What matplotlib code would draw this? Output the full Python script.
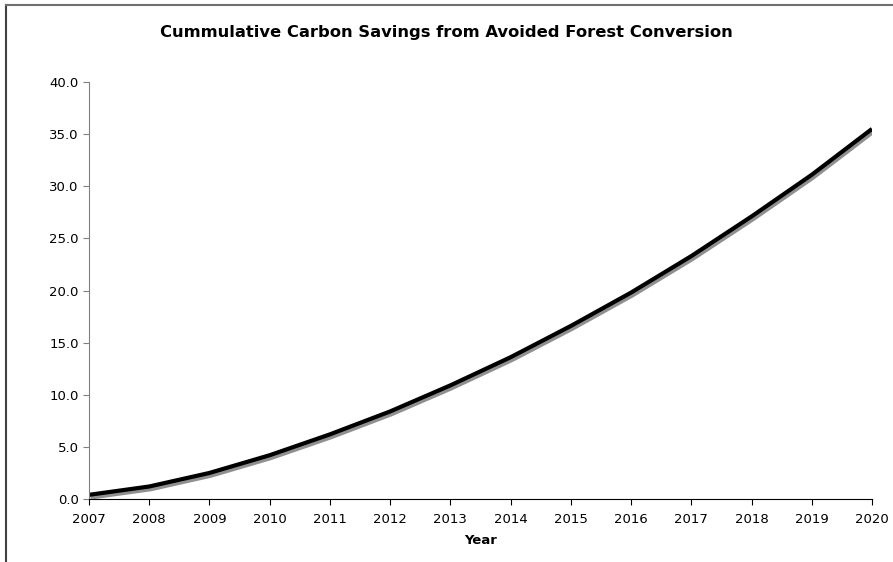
import matplotlib
matplotlib.use('Agg')
import matplotlib.pyplot as plt
import matplotlib.patheffects as pe
from matplotlib.lines import Line2D
from matplotlib.ticker import FormatStrFormatter

years = [2007, 2008, 2009, 2010, 2011, 2012, 2013, 2014, 2015, 2016, 2017, 2018, 2019, 2020]
savings = [0.4, 1.2, 2.5, 4.2, 6.2, 8.4, 10.9, 13.6, 16.6, 19.8, 23.3, 27.1, 31.1, 35.5]

plt.rcParams['font.family'] = ['DejaVu Sans']

fig = plt.figure(figsize=(8.93, 5.62), dpi=100)
ax = fig.add_axes([89 / 893, 1 - 499 / 562, (872 - 89) / 893, (499 - 82) / 562])

ax.plot(years, savings, color='black', linewidth=3.0, solid_capstyle='butt',
        path_effects=[pe.SimpleLineShadow(offset=(1, -2), shadow_color='#909090', alpha=1.0),
                      pe.Normal()])

ax.set_xlim(2007, 2020)
ax.set_ylim(0, 40)
ax.set_xticks(years)
ax.set_yticks(range(0, 41, 5))
ax.yaxis.set_major_formatter(FormatStrFormatter('%.1f'))
ax.tick_params(axis='both', labelsize=9.5, length=4, direction='out')
ax.tick_params(axis='y', colors='#808080', labelcolor='black')
ax.tick_params(axis='x', pad=6)

ax.spines['top'].set_visible(False)
ax.spines['right'].set_visible(False)
ax.spines['left'].set_color('#808080')
ax.spines['bottom'].set_color('black')

ax.set_xlabel('Year', fontsize=9.5, fontweight='bold', labelpad=6)
fig.text(0.5, 1 - 32 / 562, 'Cummulative Carbon Savings from Avoided Forest Conversion',
         ha='center', va='center', fontsize=11.8, fontweight='bold')

# chart-area border (left and top edges)
fig.add_artist(Line2D([6 / 893, 6 / 893], [0, 1 - 5 / 562], color='#404040', linewidth=1.5))
fig.add_artist(Line2D([6 / 893, 1], [1 - 5 / 562, 1 - 5 / 562], color='#707070', linewidth=1.5))

fig.savefig('out.png', dpi=100)
